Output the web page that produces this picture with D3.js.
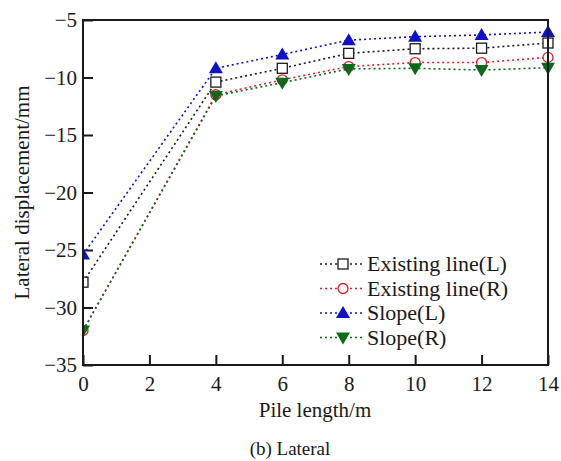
<!DOCTYPE html>
<html><head><meta charset="utf-8">
<script src="https://cdn.jsdelivr.net/npm/d3@7"></script>
<style>svg text{font-family:'Liberation Serif','Times New Roman',monospace !important}</style>
</head><body style="margin:0"><svg id="c" width="561" height="461" font-family="Liberation Serif"></svg>
<script>
const pileLength = [0, 4, 6, 8, 10, 12, 14];
const existingL = [-27.8, -10.4, -9.2, -7.9, -7.5, -7.45, -7.0];
const existingR = [-32.0, -11.5, -10.2, -9.05, -8.7, -8.7, -8.25];
const slopeL = [-25.4, -9.2, -8.0, -6.75, -6.45, -6.3, -6.05];
const slopeR = [-32.0, -11.6, -10.45, -9.25, -9.2, -9.35, -9.15];
const xTicks = [0, 2, 4, 6, 8, 10, 12, 14];
const yTicks = [-5, -10, -15, -20, -25, -30, -35];
const seriesNames = ["Existing line(L)", "Existing line(R)", "Slope(L)", "Slope(R)"];
const seriesColors = ["#1a1a1a", "#e0202a", "#1010c8", "#0a6a1a"];
const seriesMarkers = ["square", "circle", "up", "down"];
const seriesValues = [existingL, existingR, slopeL, slopeR];

const svg = d3.select("#c");
const L = 83, T = 20, R = 548, B = 365;
const x = d3.scaleLinear().domain([0, 14]).range([L, R]);
const y = d3.scaleLinear().domain([-35, -5]).range([B, T]);

const fmt = d => d < 0 ? "\u2212" + Math.abs(d) : String(d);
const gx = svg.append("g").attr("transform", `translate(0,${B})`)
  .call(d3.axisBottom(x).tickValues(xTicks).tickSize(-10).tickPadding(8).tickFormat(fmt));
const gy = svg.append("g").attr("transform", `translate(${L},0)`)
  .call(d3.axisLeft(y).tickValues(yTicks).tickSize(-10).tickPadding(6).tickFormat(fmt));
[gx, gy].forEach(g => {
  g.attr("font-family", "Liberation Serif").attr("font-size", 21);
  g.select(".domain").remove();
  g.selectAll(".tick line").attr("stroke", "#1a1a1a").attr("stroke-width", 2);
  g.selectAll(".tick text").attr("fill", "#1a1a1a");
});
gx.selectAll(".tick text").attr("dy", "0.85em");

svg.append("defs").append("clipPath").attr("id", "cp").append("rect")
  .attr("x", L).attr("y", T).attr("width", R - L + 10).attr("height", B - T);

function marker(g, type, color, cx, cy) {
  if (type === "square") g.append("rect").attr("x", cx - 5).attr("y", cy - 5).attr("width", 10).attr("height", 10).attr("fill", "#fff").attr("stroke", color).attr("stroke-width", 1.3);
  else if (type === "circle") g.append("circle").attr("cx", cx).attr("cy", cy).attr("r", 5).attr("fill", "#fff").attr("stroke", color).attr("stroke-width", 1.3);
  else if (type === "up") g.append("path").attr("d", `M${cx},${cy - 7}L${cx + 7},${cy + 5}L${cx - 7},${cy + 5}Z`).attr("fill", color);
  else g.append("path").attr("d", `M${cx},${cy + 7}L${cx + 7},${cy - 5}L${cx - 7},${cy - 5}Z`).attr("fill", color);
}

const line = d3.line().x((d, i) => x(pileLength[i])).y(d => y(d));
seriesValues.forEach((vals, k) => {
  const g = svg.append("g").attr("clip-path", "url(#cp)");
  g.append("path").datum(vals).attr("d", line).attr("fill", "none")
    .attr("stroke", seriesColors[k]).attr("stroke-width", 1.6).attr("stroke-dasharray", "2,3");
  vals.forEach((v, i) => marker(g, seriesMarkers[k], seriesColors[k], x(pileLength[i]), y(v)));
});

svg.append("rect").attr("x", L).attr("y", T).attr("width", R - L).attr("height", B - T)
  .attr("fill", "none").attr("stroke", "#1a1a1a").attr("stroke-width", 2);

const lg = svg.append("g");
seriesNames.forEach((n, k) => {
  const yy = 264 + k * 24.5;
  lg.append("line").attr("x1", 320).attr("x2", 365).attr("y1", yy).attr("y2", yy)
    .attr("stroke", seriesColors[k]).attr("stroke-width", 1.6).attr("stroke-dasharray", "2,3");
  marker(lg, seriesMarkers[k], seriesColors[k], 343, yy);
  lg.append("text").attr("x", 367).attr("y", yy + 7).attr("font-size", 22).attr("fill", "#1a1a1a").text(n);
});

svg.append("text").attr("transform", `translate(29,${(T + B) / 2}) rotate(-90)`).attr("text-anchor", "middle")
  .attr("font-size", 21).attr("fill", "#1a1a1a").text("Lateral displacement/mm");
svg.append("text").attr("x", 315).attr("y", 417).attr("text-anchor", "middle")
  .attr("font-size", 21).attr("fill", "#1a1a1a").text("Pile length/m");
svg.append("text").attr("x", 290).attr("y", 455).attr("text-anchor", "middle")
  .attr("font-size", 19).attr("fill", "#1a1a1a").text("(b) Lateral");
</script></body></html>
